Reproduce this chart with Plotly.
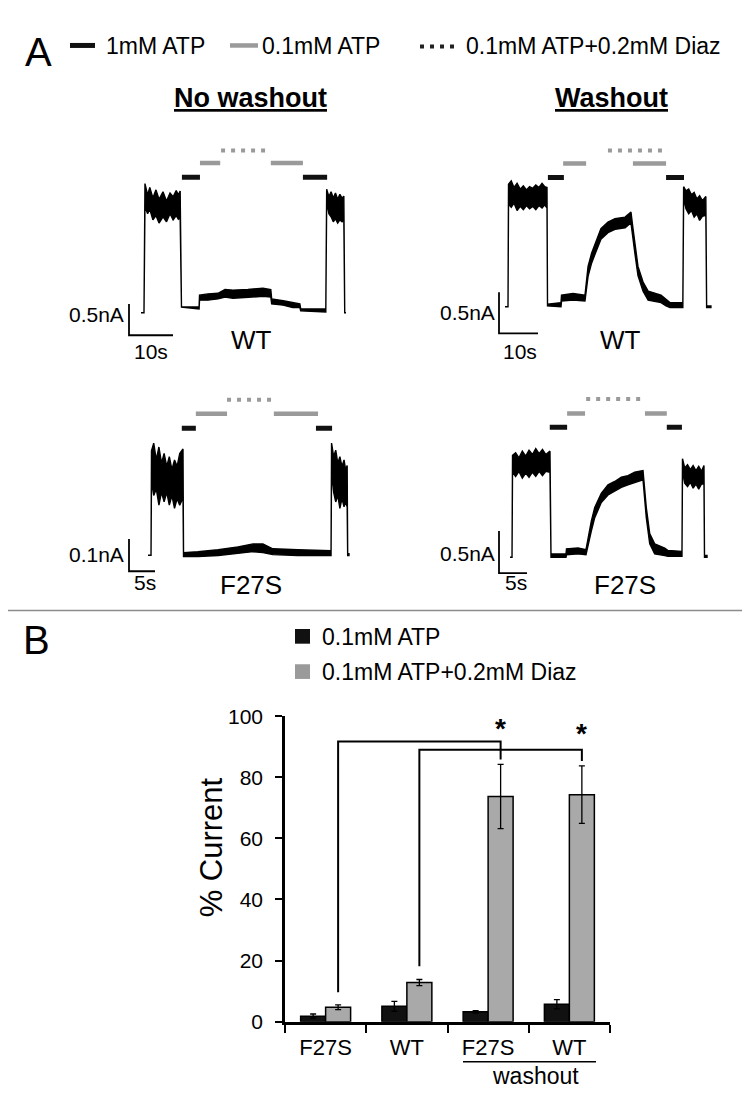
import plotly.graph_objects as go

W, H = 750, 1101
FONT = "Liberation Sans, Arial, Helvetica, sans-serif"
DARK = "#111111"
PGRAY = "#9a9a9a"
BARGRAY = "#a9a9a9"

# ---------------- Panel A : current traces (time in s, current in nA; upper / lower noise envelope) ----------------
# WT, no washout
p1_t = [0, 0.68, 0.9, 1.5, 2.0, 2.7, 3.4, 4.1, 5.0, 5.8, 6.6, 7.3, 8.0, 8.5, 8.9, 9.2, 13.2, 13.3, 15.2, 17.5,
        19.1, 20.9, 24.3, 27.7, 29.5, 29.7, 32.3, 34.5, 36.1, 36.3, 42.0, 42.2, 42.7, 43.2, 43.7, 44.2, 44.7,
        45.2, 45.7, 46.1, 46.3, 46.6]
p1_hi = [-0.03, -0.03, 2.03, 1.85, 1.97, 1.80, 1.93, 1.78, 1.90, 1.75, 1.88, 1.82, 1.92, 1.85, 1.91, 0.06, 0.06,
         0.25, 0.27, 0.28, 0.34, 0.33, 0.34, 0.36, 0.34, 0.19, 0.16, 0.13, 0.11, 0.03, 0.03, 1.94, 1.82, 1.90,
         1.80, 1.88, 1.78, 1.86, 1.80, 1.83, -0.03, -0.03]
p1_lo = [-0.03, -0.03, 1.67, 1.55, 1.62, 1.45, 1.52, 1.40, 1.50, 1.42, 1.55, 1.45, 1.52, 1.46, 1.48, 0.06, 0.03,
         0.17, 0.17, 0.19, 0.22, 0.20, 0.22, 0.23, 0.22, 0.11, 0.09, 0.05, 0.05, 0.00, -0.02, 1.75, 1.55, 1.50,
         1.42, 1.47, 1.40, 1.45, 1.42, 1.45, -0.03, -0.03]

# WT, washout
p2_t = [0, 0.77, 0.9, 1.6, 2.3, 3.1, 3.9, 4.7, 5.5, 6.3, 7.1, 7.9, 8.7, 9.5, 10.2, 10.77, 10.9, 14.36, 14.49,
        17.44, 20.5, 21.3, 22.2, 23.1, 24.6, 26.4, 28.2, 30.8, 32.3, 32.8, 33.3, 34.1, 35.4, 36.7, 40.0, 41.3,
        42.3, 45.6, 45.8, 46.4, 47.1, 47.8, 48.5, 49.2, 49.9, 50.6, 51.5, 51.7, 52.8]
p2_hi = [-0.01, -0.01, 1.48, 1.52, 1.44, 1.49, 1.42, 1.46, 1.41, 1.45, 1.43, 1.47, 1.44, 1.49, 1.45, 1.44, 0.02,
         0.04, 0.13, 0.15, 0.13, 0.48, 0.64, 0.76, 0.94, 1.02, 1.06, 1.08, 1.14, 0.95, 0.76, 0.48, 0.29, 0.18,
         0.13, 0.08, 0.04, 0.04, 1.45, 1.40, 1.42, 1.35, 1.38, 1.30, 1.34, 1.28, 1.33, 0.00, 0.00]
p2_lo = [-0.01, -0.01, 1.24, 1.20, 1.25, 1.16, 1.21, 1.17, 1.22, 1.18, 1.21, 1.17, 1.22, 1.19, 1.23, 1.19, 0.00,
         -0.01, 0.06, 0.07, 0.06, 0.36, 0.52, 0.63, 0.81, 0.89, 0.93, 0.95, 1.01, 0.83, 0.64, 0.37, 0.18, 0.07,
         0.04, 0.00, -0.02, -0.02, 1.31, 1.18, 1.12, 1.16, 1.08, 1.12, 1.04, 1.09, 1.10, -0.02, -0.02]

# F27S, no washout
p3_t = [0, 0.58, 0.67, 1.1, 1.6, 2.1, 2.6, 3.1, 3.6, 4.1, 4.6, 5.1, 5.6, 6.1, 6.73, 6.83, 9.6, 13.5, 17.3, 20.2,
        22.1, 24.0, 28.8, 35.2, 35.3, 35.7, 36.1, 36.5, 36.9, 37.3, 37.7, 38.0, 38.3, 38.4, 38.65]
p3_hi = [-0.005, -0.005, 0.318, 0.342, 0.29, 0.33, 0.28, 0.31, 0.27, 0.30, 0.26, 0.29, 0.27, 0.31, 0.324, 0.003,
         0.006, 0.012, 0.021, 0.030, 0.030, 0.015, 0.012, 0.009, 0.342, 0.30, 0.32, 0.28, 0.30, 0.27, 0.29, 0.26,
         0.273, 0.0, 0.0]
p3_lo = [-0.005, -0.005, 0.227, 0.18, 0.20, 0.15, 0.19, 0.16, 0.19, 0.15, 0.18, 0.14, 0.17, 0.15, 0.173, -0.009,
         -0.009, -0.006, 0.0, 0.006, 0.003, -0.003, -0.006, -0.006, 0.258, 0.19, 0.16, 0.18, 0.14, 0.17, 0.145,
         0.16, 0.145, -0.006, -0.006]

# F27S, washout
p4_t = [0, 0.36, 0.45, 1.0, 1.6, 2.2, 2.8, 3.4, 4.0, 4.6, 5.2, 5.8, 6.4, 7.14, 7.32, 10.0, 10.09, 12.14, 13.57,
        13.93, 14.52, 15.13, 16.3, 17.5, 18.7, 19.88, 21.07, 22.27, 23.75, 24.34, 24.95, 25.84, 27.63, 28.21,
        30.71, 30.8, 31.2, 31.7, 32.2, 32.7, 33.2, 33.7, 34.2, 34.64, 34.73, 35.18]
p4_hi = [-0.02, -0.02, 1.19, 1.22, 1.16, 1.24, 1.18, 1.25, 1.20, 1.27, 1.21, 1.26, 1.20, 1.24, 0.02, 0.02, 0.08,
         0.09, 0.07, 0.22, 0.41, 0.57, 0.74, 0.84, 0.88, 0.93, 0.95, 0.99, 1.01, 0.57, 0.26, 0.14, 0.09, 0.06,
         0.05, 1.15, 1.04, 1.08, 1.02, 1.07, 1.01, 1.06, 1.00, 1.07, 0.0, 0.0]
p4_lo = [-0.02, -0.02, 0.99, 0.94, 1.00, 0.92, 0.98, 0.93, 0.99, 0.94, 1.00, 0.95, 1.00, 0.99, -0.02, -0.02, 0.01,
         0.02, 0.01, 0.10, 0.29, 0.45, 0.63, 0.72, 0.77, 0.81, 0.84, 0.87, 0.90, 0.45, 0.14, 0.02, 0.00, -0.01,
         -0.01, 1.01, 0.86, 0.82, 0.87, 0.80, 0.85, 0.79, 0.85, 0.85, -0.02, -0.02]

# solution protocol bars above each trace: start (s), end (s), level (nA)
prot_kind = ["1mM", "0.1mM", "diaz", "0.1mM", "1mM"]
p1_prot_start = [9.3, 13.4, 18.2, 29.5, 36.8]
p1_prot_end = [13.4, 18.0, 29.5, 36.8, 42.3]
p1_prot_level = [2.13, 2.36, 2.56, 2.36, 2.13]
p2_prot_start = [11.0, 14.9, 26.4, 32.8, 41.3]
p2_prot_end = [15.1, 20.8, 41.8, 41.3, 45.9]
p2_prot_level = [1.56, 1.73, 1.89, 1.73, 1.56]
p3_prot_start = [6.5, 9.2, 15.2, 24.2, 32.3]
p3_prot_end = [9.2, 15.2, 24.0, 32.7, 35.4]
p3_prot_level = [0.388, 0.433, 0.476, 0.433, 0.388]
p4_prot_start = [7.1, 10.2, 13.6, 24.1, 28.0]
p4_prot_end = [10.2, 13.4, 23.75, 28.0, 30.7]
p4_prot_level = [1.523, 1.686, 1.86, 1.686, 1.523]

# scale bars: (time length s, current length nA) and labels
scale_time = [10, 10, 5, 5]
scale_curr = [0.5, 0.5, 0.1, 0.5]
scale_time_lbl = ["10s", "10s", "5s", "5s"]
scale_curr_lbl = ["0.5nA", "0.5nA", "0.1nA", "0.5nA"]
panel_lbl = ["WT", "WT", "F27S", "F27S"]

# ---------------- Panel B : bar chart ----------------
groups = ["F27S", "WT", "F27S", "WT"]
atp_mean = [1.8, 5.0, 3.2, 5.7]
atp_err = [0.7, 1.6, 0.4, 1.5]
diaz_mean = [4.7, 12.8, 73.7, 74.3]
diaz_err = [0.8, 1.0, 10.5, 9.4]
sig_from = [0, 1]
sig_to = [2, 3]
sig_start_y = [9.6, 18.1]
sig_top_y = [91.7, 89.0]
sig_end_y = [85.8, 85.3]
sig_star_y = [96.0, 94.4]

# ======================================================================
fig = go.Figure()

# panel geometry (pixel boxes and pixel scale for each trace panel)
panels = [
    dict(box=(105, 380, 112, 345), x0=133, sx=4.4, y0=297, sy=64, corner=(121, 322)),
    dict(box=(470, 745, 112, 345), x0=497, sx=3.9, y0=292, sy=84, corner=(491, 320)),
    dict(box=(105, 380, 372, 592), x0=140, sx=5.2, y0=545, sy=330, corner=(121, 563)),
    dict(box=(470, 745, 372, 592), x0=502, sx=5.6, y0=547, sy=86, corner=(491, 565)),
]
traces = [(p1_t, p1_hi, p1_lo), (p2_t, p2_hi, p2_lo), (p3_t, p3_hi, p3_lo), (p4_t, p4_hi, p4_lo)]
prots = [(p1_prot_start, p1_prot_end, p1_prot_level), (p2_prot_start, p2_prot_end, p2_prot_level),
         (p3_prot_start, p3_prot_end, p3_prot_level), (p4_prot_start, p4_prot_end, p4_prot_level)]

layout_axes = {}
for i, pn in enumerate(panels):
    k = i + 1
    L, R, T, B = pn["box"]
    layout_axes[f"xaxis{k}"] = dict(domain=[L / W, R / W],
                                    range=[(L - pn["x0"]) / pn["sx"], (R - pn["x0"]) / pn["sx"]],
                                    visible=False, anchor=f"y{k}", fixedrange=True)
    layout_axes[f"yaxis{k}"] = dict(domain=[1 - B / H, 1 - T / H],
                                    range=[(pn["y0"] - B) / pn["sy"], (pn["y0"] - T) / pn["sy"]],
                                    visible=False, anchor=f"x{k}", fixedrange=True)
    t, hi, lo = traces[i]
    fig.add_trace(go.Scatter(x=t + t[::-1], y=hi + lo[::-1], mode="lines", fill="toself",
                             fillcolor="black", line=dict(color="black", width=1.4),
                             xaxis=f"x{k}", yaxis=f"y{k}", hoverinfo="skip", showlegend=False))
    ps, pe, pl = prots[i]
    for s, e, lv, kind in zip(ps, pe, pl, prot_kind):
        if kind == "1mM":
            ln = dict(color=DARK, width=5)
        elif kind == "0.1mM":
            ln = dict(color=PGRAY, width=4.5)
        else:
            ln = dict(color=PGRAY, width=4, dash="4px,6px")
        fig.add_trace(go.Scatter(x=[s, e], y=[lv, lv], mode="lines", line=ln,
                                 xaxis=f"x{k}", yaxis=f"y{k}", hoverinfo="skip", showlegend=False))
    # scale bar
    cx, cy = pn["corner"]
    ct = (cx - pn["x0"]) / pn["sx"]
    ci = (pn["y0"] - cy) / pn["sy"]
    fig.add_trace(go.Scatter(x=[ct, ct, ct + scale_time[i]], y=[ci + scale_curr[i], ci, ci],
                             mode="lines", line=dict(color="black", width=1.8),
                             xaxis=f"x{k}", yaxis=f"y{k}", hoverinfo="skip", showlegend=False))

# bar chart axes
BX0, BX1, BY0, BY1 = 277, 602, 711, 1023
bargap = 0.385
barw = (1 - bargap) / 2

fig.add_trace(go.Bar(x=list(range(4)), y=atp_mean, name="0.1mM ATP",
                     marker=dict(color=DARK, line=dict(color="black", width=1.5)),
                     error_y=dict(type="data", array=atp_err, color="black", thickness=1.3, width=3),
                     xaxis="x5", yaxis="y5", showlegend=False))
fig.add_trace(go.Bar(x=list(range(4)), y=diaz_mean, name="0.1mM ATP+0.2mM Diaz",
                     marker=dict(color=BARGRAY, line=dict(color="black", width=1.5)),
                     error_y=dict(type="data", array=diaz_err, color="black", thickness=1.3, width=3),
                     xaxis="x5", yaxis="y5", showlegend=False))

annotations = []
for f, t_, y0_, ytop, y1_, ys in zip(sig_from, sig_to, sig_start_y, sig_top_y, sig_end_y, sig_star_y):
    xa = f + barw / 2
    xb = t_ + barw / 2
    fig.add_trace(go.Scatter(x=[xa, xa, xb, xb], y=[y0_, ytop, ytop, y1_], mode="lines",
                             line=dict(color="black", width=2), xaxis="x5", yaxis="y5",
                             hoverinfo="skip", showlegend=False))
    annotations.append(dict(x=xb, y=ys, xref="x5", yref="y5", text="<b>*</b>", showarrow=False,
                            font=dict(size=28, color="black", family=FONT), yanchor="middle"))

layout_axes["xaxis5"] = dict(domain=[BX0 / W, BX1 / W], range=[-0.5, 3.5], anchor="y5",
                             tickvals=list(range(4)), ticktext=groups, ticks="",
                             showline=True, linecolor="black", linewidth=3, showgrid=False,
                             zeroline=False, tickfont=dict(size=22, color="black", family=FONT),
                             ticklabelstandoff=4,
                             minor=dict(tickvals=[-0.5, 0.5, 1.5, 2.5, 3.5], ticks="outside",
                                        ticklen=8, tickwidth=2, tickcolor="black"),
                             fixedrange=True)
layout_axes["yaxis5"] = dict(domain=[1 - BY1 / H, 1 - BY0 / H], range=[0, 100], anchor="x5",
                             tickvals=[0, 20, 40, 60, 80, 100], ticks="outside", ticklen=7,
                             tickwidth=2, tickcolor="black", showline=True, linecolor="black",
                             linewidth=2.5, showgrid=False, zeroline=False,
                             tickfont=dict(size=21, color="black", family=FONT),
                             ticklabelstandoff=8, fixedrange=True)


def px(x):
    return x / W


def py(y):
    return 1 - y / H


def txt(x, y, s, size, xanchor="center", angle=0):
    annotations.append(dict(x=px(x), y=py(y), xref="paper", yref="paper", text=s, showarrow=False,
                            xanchor=xanchor, yanchor="middle", textangle=angle,
                            font=dict(size=size, color="black", family=FONT)))


# panel letters
txt(30, 33, "A", 40)
txt(28, 633, "B", 40)

# panel A legend
txt(96, 27, "1mM ATP", 23, "left")
txt(252, 27, "0.1mM ATP", 23, "left")
txt(456, 27, "0.1mM ATP+0.2mM Diaz", 23, "left")
shapes = [
    dict(type="line", xref="paper", yref="paper", x0=px(62), x1=px(87), y0=py(26), y1=py(26),
         line=dict(color=DARK, width=5)),
    dict(type="line", xref="paper", yref="paper", x0=px(222), x1=px(250), y0=py(26), y1=py(26),
         line=dict(color=PGRAY, width=4.5)),
    dict(type="line", xref="paper", yref="paper", x0=px(412), x1=px(452), y0=py(27), y1=py(27),
         line=dict(color="#222222", width=4, dash="4px,6px")),
    # separator
    dict(type="line", xref="paper", yref="paper", x0=0, x1=1, y0=py(603), y1=py(603),
         line=dict(color="#8c8c8c", width=1.5)),
    # panel B legend squares
    dict(type="rect", xref="paper", yref="paper", x0=px(287), x1=px(302), y0=py(622), y1=py(637),
         fillcolor=DARK, line=dict(width=0)),
    dict(type="rect", xref="paper", yref="paper", x0=px(287), x1=px(302), y0=py(658), y1=py(673),
         fillcolor=PGRAY, line=dict(width=0)),
    # washout underline
    dict(type="line", xref="paper", yref="paper", x0=px(455), x1=px(588), y0=py(1064), y1=py(1064),
         line=dict(color="black", width=1.5)),
]

# titles
txt(242, 80, "<b><u>No washout</u></b>", 27)
txt(603, 80, "<b><u>Washout</u></b>", 27)

# scale labels + genotype labels
txt(118, 301, scale_curr_lbl[0], 21, "right")
txt(143, 339, scale_time_lbl[0], 21)
txt(243, 327, panel_lbl[0], 26)
txt(489, 299, scale_curr_lbl[1], 21, "right")
txt(512, 339, scale_time_lbl[1], 21)
txt(612, 327, panel_lbl[1], 26)
txt(118, 546, scale_curr_lbl[2], 21, "right")
txt(137, 574, scale_time_lbl[2], 21)
txt(243, 577, panel_lbl[2], 26)
txt(489, 545, scale_curr_lbl[3], 21, "right")
txt(508, 574, scale_time_lbl[3], 21)
txt(617, 577, panel_lbl[3], 26)

# panel B legend text
txt(312, 630, "0.1mM ATP", 23, "left")
txt(312, 666, "0.1mM ATP+0.2mM Diaz", 23, "left")

# axis title and washout
txt(203, 845, "% Current", 31, angle=-90)
txt(527, 1079, "washout", 23)

fig.update_layout(width=W, height=H, margin=dict(l=0, r=0, t=0, b=0), paper_bgcolor="white",
                  plot_bgcolor="rgba(0,0,0,0)", showlegend=False, barmode="group", bargap=bargap,
                  bargroupgap=0, annotations=annotations, shapes=shapes,
                  font=dict(family=FONT, color="black"), **layout_axes)

fig.write_html("out.html")
